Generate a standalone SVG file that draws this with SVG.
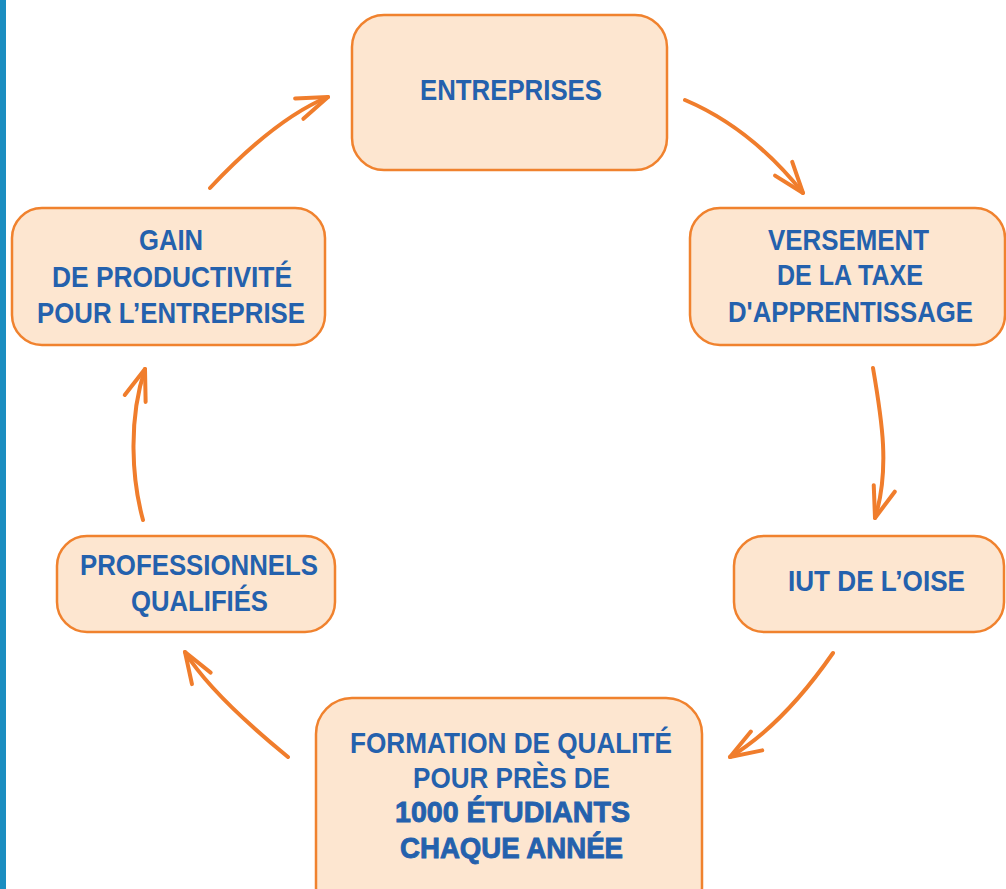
<svg xmlns="http://www.w3.org/2000/svg" width="1006" height="889" viewBox="0 0 1006 889">
<defs>
<style>
.box{fill:#fde6d0;stroke:#f0822e;stroke-width:2.5}
.t{font-family:"Liberation Sans",Arial,sans-serif;font-weight:bold;font-size:30px;fill:#2461ad;text-anchor:middle}
.b{stroke:#2461ad;stroke-width:0.9}
.arr{fill:none;stroke:#f07d2c;stroke-width:4;stroke-linecap:round;marker-end:url(#ah)}
</style>
<marker id="ah" markerUnits="userSpaceOnUse" viewBox="-36 -16 40 32" refX="0" refY="0" markerWidth="40" markerHeight="32" orient="auto" overflow="visible">
<path d="M-31,-11 L0,0 L-31,11" fill="none" stroke="#f07d2c" stroke-width="4" stroke-linecap="round" stroke-linejoin="round"/>
</marker>
</defs>
<rect x="0" y="0" width="1006" height="889" fill="#ffffff"/>
<rect x="0" y="0" width="6" height="889" fill="#1a8dc0"/>

<g id="connectors">
<path class="arr" d="M685,100 Q751,128 803,193"/>
<path class="arr" d="M873,368 C882,420 890,470 875,518"/>
<path class="arr" d="M833,653 Q783,725 730,757"/>
<path class="arr" d="M288,757 Q211,694 185,652"/>
<path class="arr" d="M143,520 C132,480 128,420 145,369"/>
<path class="arr" d="M210,188 Q276,118 328,97"/>
</g>

<g id="entreprises">
<rect class="box" x="352" y="15" width="315" height="155" rx="32"/>
<text class="t" x="511" y="100" textLength="182" lengthAdjust="spacingAndGlyphs">ENTREPRISES</text>
</g>

<g id="versement">
<rect class="box" x="690" y="208" width="315" height="137" rx="30"/>
<text class="t" x="848.5" y="250" textLength="161" lengthAdjust="spacingAndGlyphs">VERSEMENT</text>
<text class="t" x="850" y="285" textLength="146" lengthAdjust="spacingAndGlyphs">DE LA TAXE</text>
<text class="t" x="850.5" y="322" textLength="245" lengthAdjust="spacingAndGlyphs">D'APPRENTISSAGE</text>
</g>

<g id="iut">
<rect class="box" x="734" y="536" width="270" height="96" rx="30"/>
<text class="t" x="876.5" y="591" textLength="177" lengthAdjust="spacingAndGlyphs">IUT DE L’OISE</text>
</g>

<g id="formation">
<rect class="box" x="316" y="698" width="386" height="225" rx="36"/>
<text class="t" x="511" y="753" textLength="322" lengthAdjust="spacingAndGlyphs">FORMATION DE QUALITÉ</text>
<text class="t" x="511.5" y="788" textLength="197" lengthAdjust="spacingAndGlyphs">POUR PRÈS DE</text>
<text class="t b" x="512.5" y="822" textLength="235" lengthAdjust="spacingAndGlyphs">1000 ÉTUDIANTS</text>
<text class="t b" x="511.5" y="858" textLength="223" lengthAdjust="spacingAndGlyphs">CHAQUE ANNÉE</text>
</g>

<g id="professionnels">
<rect class="box" x="57" y="536" width="278" height="96" rx="30"/>
<text class="t" x="199" y="575" textLength="238" lengthAdjust="spacingAndGlyphs">PROFESSIONNELS</text>
<text class="t" x="199.5" y="611" textLength="137" lengthAdjust="spacingAndGlyphs">QUALIFIÉS</text>
</g>

<g id="gain">
<rect class="box" x="12" y="208" width="313" height="137" rx="30"/>
<text class="t" x="171" y="250" textLength="64" lengthAdjust="spacingAndGlyphs">GAIN</text>
<text class="t" x="172" y="287" textLength="240" lengthAdjust="spacingAndGlyphs">DE PRODUCTIVITÉ</text>
<text class="t" x="171" y="323" textLength="268" lengthAdjust="spacingAndGlyphs">POUR L’ENTREPRISE</text>
</g>
</svg>
